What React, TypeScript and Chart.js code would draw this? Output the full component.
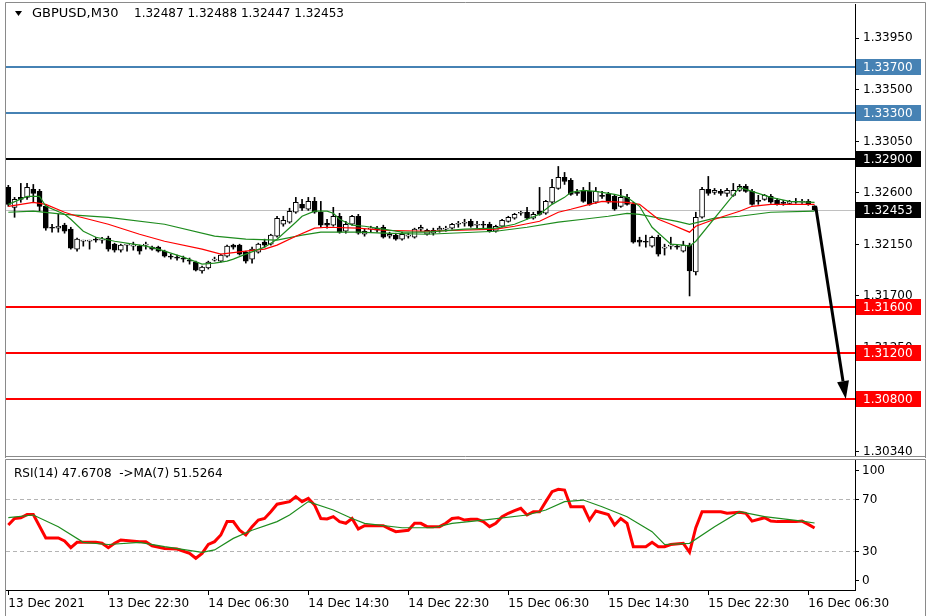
import React, { useEffect, useRef } from "react";
import { Chart, registerables } from "chart.js";

Chart.register(...registerables);

// ---------------- data ----------------
const SYMBOL = "GBPUSD,M30";
const RSI_TEXT = "RSI(14) 47.6708  ->MA(7) 51.5264";

const OPEN = [
  1.32648, 1.32474, 1.32561, 1.32561, 1.32631, 1.32613, 1.32483, 1.323, 1.32292, 1.32318,
  1.32283, 1.32109, 1.32178, 1.32178, 1.32196, 1.32187, 1.32205, 1.32152, 1.321, 1.32144,
  1.32135, 1.32135, 1.32144, 1.32126, 1.32126, 1.32091, 1.32048, 1.32039, 1.32031, 1.32013,
  1.31996, 1.31918, 1.31944, 1.32013, 1.32004, 1.32048, 1.32144, 1.32144, 1.32083, 1.32022,
  1.32083, 1.3217, 1.32152, 1.32222, 1.32326, 1.32344, 1.32431, 1.325, 1.32457, 1.32526,
  1.32431, 1.32335, 1.32318, 1.32396, 1.32265, 1.32326, 1.32396, 1.32239, 1.32283, 1.32292,
  1.323, 1.32222, 1.32231, 1.32196, 1.32222, 1.32213, 1.32283, 1.32239, 1.32248, 1.32274,
  1.32283, 1.32292, 1.32326, 1.32335, 1.32352, 1.32318, 1.32326, 1.32326, 1.32265, 1.32309,
  1.32352, 1.32379, 1.32422, 1.32431, 1.32379, 1.3244, 1.32422, 1.32518, 1.32639, 1.32735,
  1.32709, 1.32605, 1.32613, 1.32613, 1.32518, 1.32579, 1.32587, 1.3257, 1.32483, 1.32561,
  1.325, 1.32187, 1.32178, 1.32135, 1.32213, 1.32118, 1.32135, 1.32135, 1.32091, 1.32144,
  1.31909, 1.32387, 1.32631, 1.32605, 1.32613, 1.32596, 1.32579, 1.32622, 1.32657, 1.32613,
  1.32535, 1.32543, 1.3257, 1.32535, 1.32518, 1.32509, 1.32526, 1.32518, 1.32526, 1.32487,
];
const HIGH = [
  1.32666, 1.32561, 1.32683, 1.32683, 1.32674, 1.32631, 1.325, 1.32326, 1.32413, 1.32335,
  1.323, 1.32205, 1.32187, 1.32187, 1.32213, 1.32213, 1.32222, 1.32161, 1.32152, 1.32152,
  1.3217, 1.32144, 1.3217, 1.32135, 1.32135, 1.321, 1.32065, 1.32057, 1.32048, 1.32031,
  1.32004, 1.31961, 1.32004, 1.32039, 1.32065, 1.32144, 1.32152, 1.32152, 1.32091, 1.32126,
  1.32161, 1.32196, 1.32239, 1.32396, 1.32396, 1.32466, 1.32561, 1.32543, 1.32561, 1.32561,
  1.32526, 1.3237, 1.32474, 1.32422, 1.32352, 1.32405, 1.32413, 1.32283, 1.32309, 1.32309,
  1.32318, 1.32257, 1.32248, 1.32257, 1.32248, 1.32292, 1.32318, 1.32283, 1.32292, 1.32309,
  1.32309, 1.32335, 1.32352, 1.3237, 1.3237, 1.32352, 1.32352, 1.32344, 1.32318, 1.3237,
  1.32396, 1.32422, 1.3244, 1.32474, 1.32431, 1.32648, 1.32535, 1.32718, 1.32831, 1.32779,
  1.32726, 1.32631, 1.32648, 1.32692, 1.32648, 1.32613, 1.32605, 1.32587, 1.32631, 1.32587,
  1.32518, 1.32213, 1.32231, 1.32222, 1.32231, 1.32152, 1.32213, 1.32144, 1.32178, 1.32161,
  1.32431, 1.32648, 1.32744, 1.32639, 1.32631, 1.32639, 1.32683, 1.32674, 1.32674, 1.32631,
  1.32579, 1.32587, 1.32587, 1.32552, 1.32535, 1.32535, 1.32552, 1.32543, 1.32543, 1.32488,
];
const LOW = [
  1.32483, 1.32387, 1.32518, 1.32543, 1.32518, 1.3244, 1.32274, 1.32257, 1.32257, 1.32248,
  1.32109, 1.32091, 1.32135, 1.32109, 1.3217, 1.32161, 1.32091, 1.32083, 1.32083, 1.32091,
  1.321, 1.32065, 1.32109, 1.321, 1.32083, 1.32039, 1.32022, 1.32013, 1.31996, 1.31978,
  1.31918, 1.319, 1.31935, 1.32004, 1.31996, 1.32039, 1.32109, 1.32057, 1.31987, 1.31987,
  1.32074, 1.32126, 1.32144, 1.32213, 1.32309, 1.32335, 1.32422, 1.32448, 1.32448, 1.32422,
  1.323, 1.32292, 1.32309, 1.32248, 1.32248, 1.32318, 1.32239, 1.32222, 1.32257, 1.32257,
  1.32205, 1.32205, 1.32187, 1.32187, 1.32205, 1.32205, 1.32265, 1.32231, 1.32231, 1.32257,
  1.32265, 1.32283, 1.323, 1.32309, 1.323, 1.32292, 1.32292, 1.32257, 1.32257, 1.323,
  1.32344, 1.3237, 1.32405, 1.3237, 1.3237, 1.32405, 1.32413, 1.32509, 1.32631, 1.32674,
  1.32579, 1.32579, 1.32518, 1.32492, 1.32509, 1.32552, 1.32509, 1.32448, 1.32474, 1.32492,
  1.32161, 1.32135, 1.32126, 1.32126, 1.32048, 1.32057, 1.32109, 1.32109, 1.32083, 1.317,
  1.31883, 1.32379, 1.32579, 1.32587, 1.32579, 1.3257, 1.3257, 1.32613, 1.32605, 1.32492,
  1.325, 1.32535, 1.32509, 1.32492, 1.32492, 1.325, 1.32509, 1.32509, 1.32492, 1.32447,
];
const CLOSE = [
  1.325, 1.32543, 1.32543, 1.32648, 1.32596, 1.32483, 1.32292, 1.32292, 1.32309, 1.32265,
  1.32118, 1.32196, 1.32187, 1.32187, 1.32187, 1.32196, 1.32109, 1.321, 1.32144, 1.32152,
  1.32144, 1.32091, 1.32152, 1.32109, 1.32091, 1.32048, 1.32039, 1.32031, 1.32022, 1.32004,
  1.31926, 1.31952, 1.31996, 1.32022, 1.32057, 1.32135, 1.32126, 1.32065, 1.32004, 1.32109,
  1.32152, 1.32144, 1.32231, 1.32379, 1.32361, 1.3244, 1.32518, 1.32466, 1.32526, 1.32431,
  1.32318, 1.32318, 1.32396, 1.32257, 1.32326, 1.32396, 1.32248, 1.32265, 1.32292, 1.32274,
  1.32213, 1.32239, 1.32196, 1.32239, 1.32231, 1.32283, 1.323, 1.32274, 1.32274, 1.32292,
  1.32292, 1.32326, 1.32335, 1.32344, 1.32309, 1.32326, 1.32318, 1.32265, 1.32309, 1.32361,
  1.32387, 1.32413, 1.32431, 1.32379, 1.32413, 1.32413, 1.32526, 1.32648, 1.32735, 1.327,
  1.32587, 1.32596, 1.32526, 1.325, 1.32613, 1.3257, 1.32518, 1.32457, 1.32561, 1.325,
  1.3217, 1.3217, 1.3217, 1.32213, 1.32065, 1.32126, 1.32144, 1.32126, 1.32144, 1.31918,
  1.32387, 1.32631, 1.32596, 1.32622, 1.32596, 1.32622, 1.32622, 1.32657, 1.32613, 1.325,
  1.32526, 1.32579, 1.32518, 1.325, 1.32509, 1.32526, 1.32518, 1.32526, 1.325, 1.32453,
];

// moving averages on price: [bar index, price]
const MA_FAST = [
  [0, 1.325], [3, 1.3257], [5, 1.3257], [6, 1.32483], [9, 1.32413], [10, 1.3237], [12, 1.32265],
  [14, 1.32213], [17, 1.32178], [20, 1.32152], [22, 1.32135], [24, 1.32109], [28, 1.32039],
  [31, 1.31978], [33, 1.31987], [35, 1.32004], [36, 1.32022], [38, 1.32065], [41, 1.32126],
  [43, 1.32196], [46, 1.32344], [47, 1.32396], [49, 1.3244], [51, 1.3244], [52, 1.32422],
  [53, 1.3237], [55, 1.32318], [57, 1.32309], [60, 1.32283], [63, 1.32257], [67, 1.32257],
  [73, 1.32283], [78, 1.32292], [81, 1.32326], [83, 1.3237], [85, 1.32413], [87, 1.325],
  [89, 1.32561], [90, 1.32605], [92, 1.32622], [94, 1.32613], [97, 1.32587], [99, 1.32561],
  [101, 1.32483], [103, 1.323], [106, 1.32152], [108, 1.32144], [109, 1.32135], [110, 1.32178],
  [117, 1.32648], [119, 1.32613], [122, 1.32561], [125, 1.32526], [129, 1.32518],
];
const MA_MID = [
  [0, 1.32483], [2, 1.325], [4, 1.32518], [6, 1.325], [9, 1.32431], [11, 1.32396], [16, 1.32326],
  [21, 1.32239], [25, 1.32178], [31, 1.32109], [34, 1.32065], [38, 1.32091], [41, 1.32109],
  [43, 1.32144], [46, 1.32222], [49, 1.32292], [51, 1.323], [56, 1.32292], [60, 1.32274],
  [67, 1.32265], [78, 1.32283], [81, 1.32309], [85, 1.32352], [88, 1.32431], [90, 1.32457],
  [93, 1.325], [95, 1.32526], [99, 1.32518], [101, 1.325], [104, 1.3237], [106, 1.32326],
  [109, 1.32257], [110, 1.32309], [113, 1.3237], [117, 1.3244], [119, 1.32483], [122, 1.325],
  [129, 1.325],
];
const MA_SLOW = [
  [0, 1.32431], [4, 1.3244], [9, 1.32413], [16, 1.32387], [25, 1.32326], [33, 1.32222],
  [38, 1.32196], [43, 1.32187], [47, 1.32231], [50, 1.32257], [56, 1.32257], [60, 1.32248],
  [67, 1.32239], [78, 1.32265], [83, 1.323], [88, 1.32344], [92, 1.3237], [96, 1.32396],
  [99, 1.32422], [101, 1.32413], [107, 1.32352], [109, 1.32326], [113, 1.32379], [117, 1.32396],
  [122, 1.32431], [129, 1.3244],
];

// RSI panel: [bar index, value]
const RSI_LINE = [
  [0, 50], [1, 55], [2, 55.6], [3, 58], [4, 58], [6, 40], [8, 40], [9, 37.7], [10, 32.6],
  [11, 36.7], [14, 36.7], [15, 36], [16, 32.6], [17, 36], [18, 38.5], [21, 37.2], [22, 37.2],
  [23, 34], [25, 32], [27, 31.5], [29, 28.2], [30, 24.4], [31, 28.2], [32, 35], [33, 37.2],
  [34, 42.3], [35, 52.6], [36, 52.6], [37, 46], [38, 42.3], [39, 48.7], [40, 53.8], [41, 55],
  [42, 60.2], [43, 66], [45, 68], [46, 71.8], [47, 68], [48, 70.5], [49, 65.4], [50, 55],
  [51, 54.6], [52, 56.4], [53, 52.6], [54, 51.3], [55, 55], [56, 47], [57, 49.5], [60, 49.5],
  [61, 47], [62, 44.9], [64, 46], [65, 51.3], [66, 51.3], [67, 48.7], [69, 48.7], [70, 51.3],
  [71, 55], [72, 55.6], [73, 53.8], [74, 54.4], [75, 54.4], [76, 52.6], [77, 48.7], [78, 51.3],
  [79, 56.4], [80, 59], [81, 61], [82, 62.8], [83, 57.7], [84, 60.2], [85, 60.2], [86, 68],
  [87, 75.6], [88, 77.4], [89, 76.9], [90, 64], [92, 64], [93, 53.8], [94, 60.8], [96, 58],
  [97, 50], [98, 55], [99, 51.3], [100, 33.3], [102, 33.3], [103, 36.7], [104, 33.3], [105, 33.3],
  [106, 35], [108, 35.9], [109, 29], [110, 48], [111, 60.2], [114, 60.2], [115, 59], [117, 59.8],
  [118, 59], [119, 53], [121, 55.6], [122, 53], [123, 52.6], [126, 52.6], [127, 53], [128, 50.5],
  [129, 47.67],
];
const RSI_MA = [
  [0, 55.6], [4, 57.7], [8, 48.7], [12, 36.7], [16, 35], [21, 36.7], [25, 33.3], [31, 29],
  [33, 30.8], [36, 39.7], [39, 46], [43, 52.6], [45, 57.7], [48, 68], [52, 61.5], [55, 55],
  [57, 51.3], [63, 47.9], [68, 47.9], [71, 51.3], [76, 53.8], [83, 57.7], [86, 61.5], [89, 68],
  [92, 69.2], [95, 64], [99, 56.4], [103, 44.9], [105, 35], [109, 35.9], [113, 48.7], [117, 60.2],
  [121, 56.4], [127, 53], [129, 51.53],
];

const PRICE_TICKS = [1.3395, 1.335, 1.3305, 1.326, 1.3215, 1.317, 1.3125, 1.308, 1.3034];
const LEVEL_PRICES = [1.337, 1.333, 1.329, 1.316, 1.312, 1.308];
const CURRENT_PRICE = 1.32453;
const ARROW_FROM = [129.2, 1.32474];
const ARROW_TO = [134, 1.308];
const RSI_TICKS = [100, 70, 30, 0];
const RSI_LEVELS = [70, 30];
const X_TICKS = [0, 16, 32, 48, 64, 80, 96, 112, 128];
const X_LABELS = [
  "13 Dec 2021", "13 Dec 22:30", "14 Dec 06:30", "14 Dec 14:30", "14 Dec 22:30",
  "15 Dec 06:30", "15 Dec 14:30", "15 Dec 22:30", "16 Dec 06:30",
];

// ---------------- styles / layout ----------------
const FONT = '"DejaVu Sans", sans-serif';
const LEVEL_COLORS = ["#4682b4", "#4682b4", "#000000", "#ff0000", "#ff0000", "#ff0000"];
const GREEN = "#1e8c1e";
const RED = "#ff0000";
const FRAME = "#8a8a8a";
const X_MIN = -0.37;
const X_MAX = 135.47;
const PRICE_MIN = 1.30302;
const PRICE_MAX = 1.3425;
const W = 927;
const MAIN_H = 458;
const RSI_H = 158;

const pts = (arr: number[][]) => arr.map(([x, y]) => ({ x, y }));

const noPad = (s: any) => {
  s.paddingTop = 0;
  s.paddingBottom = 0;
  s.paddingLeft = 0;
  s.paddingRight = 0;
};

const mainDecor = {
  id: "mainDecor",
  beforeDatasetsDraw(chart: any) {
    const { ctx, chartArea: a, scales } = chart;
    const y = scales.y;
    ctx.save();
    const yc = Math.round(y.getPixelForValue(CURRENT_PRICE)) + 0.5;
    ctx.strokeStyle = "#c0c0c0";
    ctx.lineWidth = 1;
    ctx.beginPath();
    ctx.moveTo(a.left, yc);
    ctx.lineTo(a.right, yc);
    ctx.stroke();
    LEVEL_PRICES.forEach((p, k) => {
      const yy = Math.round(y.getPixelForValue(p));
      ctx.strokeStyle = LEVEL_COLORS[k];
      ctx.lineWidth = 2;
      ctx.beginPath();
      ctx.moveTo(a.left, yy);
      ctx.lineTo(a.right, yy);
      ctx.stroke();
    });
    ctx.restore();
  },
  afterDraw(chart: any) {
    const { ctx, chartArea: a, scales } = chart;
    const x = scales.x;
    const y = scales.y;
    ctx.save();
    // arrow
    const x0 = x.getPixelForValue(ARROW_FROM[0]);
    const y0 = y.getPixelForValue(ARROW_FROM[1]);
    const x1 = x.getPixelForValue(ARROW_TO[0]);
    const y1 = y.getPixelForValue(ARROW_TO[1]);
    const ang = Math.atan2(y1 - y0, x1 - x0);
    const hl = 18;
    const hw = 6;
    const bx = x1 - hl * Math.cos(ang);
    const by = y1 - hl * Math.sin(ang);
    ctx.strokeStyle = "#000";
    ctx.lineWidth = 3;
    ctx.lineCap = "butt";
    ctx.beginPath();
    ctx.moveTo(x0, y0);
    ctx.lineTo(bx, by);
    ctx.stroke();
    ctx.fillStyle = "#000";
    ctx.beginPath();
    ctx.moveTo(x1, y1);
    ctx.lineTo(bx + hw * Math.sin(ang), by - hw * Math.cos(ang));
    ctx.lineTo(bx - hw * Math.sin(ang), by + hw * Math.cos(ang));
    ctx.closePath();
    ctx.fill();

    // price label boxes
    ctx.font = `12px ${FONT}`;
    ctx.textBaseline = "middle";
    ctx.textAlign = "left";
    const box = (p: number, bg: string) => {
      const yy = Math.round(y.getPixelForValue(p));
      ctx.fillStyle = bg;
      ctx.fillRect(a.right + 1, yy - 8, 65, 16);
      ctx.fillStyle = "#fff";
      ctx.fillText(p.toFixed(5), a.right + 8, yy + 1);
    };
    LEVEL_PRICES.forEach((p, k) => box(p, LEVEL_COLORS[k]));
    box(CURRENT_PRICE, "#000");

    // header
    ctx.fillStyle = "#000";
    ctx.beginPath();
    ctx.moveTo(15, 11);
    ctx.lineTo(22, 11);
    ctx.lineTo(18.5, 16);
    ctx.closePath();
    ctx.fill();
    ctx.font = `13px ${FONT}`;
    ctx.fillText(SYMBOL, 32, 14);
    ctx.font = `12px ${FONT}`;
    const last = [OPEN, HIGH, LOW, CLOSE].map((arr) => arr[arr.length - 1].toFixed(5)).join(" ");
    ctx.fillText(last, 134, 14);

    // frame
    ctx.strokeStyle = FRAME;
    ctx.lineWidth = 1;
    ctx.beginPath();
    ctx.moveTo(5.5, MAIN_H);
    ctx.lineTo(5.5, 2.5);
    ctx.lineTo(925.5, 2.5);
    ctx.lineTo(925.5, MAIN_H);
    ctx.moveTo(5.5, a.bottom + 0.5);
    ctx.lineTo(925.5, a.bottom + 0.5);
    ctx.stroke();
    ctx.restore();
  },
};

const rsiDecor = {
  id: "rsiDecor",
  beforeDatasetsDraw(chart: any) {
    const { ctx, chartArea: a, scales } = chart;
    const y = scales.y;
    ctx.save();
    ctx.strokeStyle = "#b4b4b4";
    ctx.lineWidth = 1;
    ctx.setLineDash([4, 3]);
    RSI_LEVELS.forEach((v) => {
      const yy = Math.round(y.getPixelForValue(v)) + 0.5;
      ctx.beginPath();
      ctx.moveTo(a.left, yy);
      ctx.lineTo(a.right, yy);
      ctx.stroke();
    });
    ctx.restore();
  },
  afterDraw(chart: any) {
    const { ctx, chartArea: a, scales } = chart;
    const y = scales.y;
    ctx.save();
    ctx.font = `12px ${FONT}`;
    ctx.fillStyle = "#000";
    ctx.textBaseline = "middle";
    ctx.textAlign = "left";
    ctx.fillText(RSI_TEXT, 14, 16);
    ctx.strokeStyle = "#000";
    ctx.lineWidth = 1;
    RSI_TICKS.forEach((v) => {
      let yy = y.getPixelForValue(v);
      yy = Math.round(Math.min(Math.max(yy, a.top + 10), a.bottom - 10));
      ctx.beginPath();
      ctx.moveTo(a.right, yy + 0.5);
      ctx.lineTo(a.right + 4, yy + 0.5);
      ctx.stroke();
      ctx.fillText(String(v), a.right + 7, yy + 1);
    });
    ctx.strokeStyle = FRAME;
    ctx.beginPath();
    ctx.moveTo(5.5, RSI_H);
    ctx.lineTo(5.5, 1.5);
    ctx.lineTo(925.5, 1.5);
    ctx.lineTo(925.5, RSI_H);
    ctx.stroke();
    ctx.restore();
  },
};

export default function App() {
  const mainRef = useRef<HTMLCanvasElement>(null);
  const rsiRef = useRef<HTMLCanvasElement>(null);

  useEffect(() => {
    Chart.defaults.font.family = FONT;
    Chart.defaults.font.size = 12;
    Chart.defaults.color = "#000";

    const main = new Chart(mainRef.current as HTMLCanvasElement, {
      type: "bar",
      data: {
        datasets: [
          {
            type: "line",
            data: pts(MA_FAST),
            borderColor: GREEN,
            borderWidth: 1.2,
            pointRadius: 0,
            order: 1,
          },
          {
            type: "line",
            data: pts(MA_MID),
            borderColor: RED,
            borderWidth: 1.2,
            pointRadius: 0,
            order: 1,
          },
          {
            type: "line",
            data: pts(MA_SLOW),
            borderColor: GREEN,
            borderWidth: 1.2,
            pointRadius: 0,
            order: 1,
          },
          {
            type: "bar",
            data: OPEN.map((o, i) => ({ x: i, y: [o, CLOSE[i]] })),
            backgroundColor: OPEN.map((o, i) => (CLOSE[i] >= o ? "#ffffff" : "#000000")),
            borderColor: "#000",
            borderWidth: 1,
            borderSkipped: false,
            barThickness: 5,
            grouped: false,
            order: 2,
          },
          {
            type: "bar",
            data: LOW.map((l, i) => ({ x: i, y: [l, HIGH[i]] })),
            backgroundColor: "#000",
            borderWidth: 0,
            barThickness: 1,
            grouped: false,
            order: 3,
          },
        ] as any,
      },
      options: {
        responsive: false,
        animation: false,
        devicePixelRatio: 1,
        layout: { padding: { left: 6, top: 4, right: 0, bottom: 2 } },
        plugins: { legend: { display: false }, tooltip: { enabled: false } },
        scales: {
          x: { type: "linear", min: X_MIN, max: X_MAX, display: false, offset: false, grid: { offset: false } },
          y: {
            type: "linear",
            position: "right",
            min: PRICE_MIN,
            max: PRICE_MAX,
            afterFit: (s: any) => {
              s.width = 72;
              noPad(s);
            },
            afterBuildTicks: (s: any) => {
              s.ticks = PRICE_TICKS.map((v) => ({ value: v }));
            },
            ticks: {
              callback: (v: any) => Number(v).toFixed(5),
              color: "#000",
              font: { family: FONT, size: 12 },
              padding: 4,
              autoSkip: false,
            },
            grid: { drawOnChartArea: false, tickLength: 4, color: "#000" },
            border: { color: "#000" },
          },
        } as any,
      },
      plugins: [mainDecor],
    });

    const rsi = new Chart(rsiRef.current as HTMLCanvasElement, {
      type: "line",
      data: {
        datasets: [
          {
            data: pts(RSI_LINE),
            borderColor: RED,
            borderWidth: 3,
            pointRadius: 0,
            order: 2,
          },
          {
            data: pts(RSI_MA),
            borderColor: GREEN,
            borderWidth: 1.2,
            pointRadius: 0,
            order: 1,
          },
        ] as any,
      },
      options: {
        responsive: false,
        animation: false,
        devicePixelRatio: 1,
        layout: { padding: { left: 6, top: 2, right: 0, bottom: 0 } },
        plugins: { legend: { display: false }, tooltip: { enabled: false } },
        scales: {
          x: {
            type: "linear",
            min: X_MIN,
            max: X_MAX,
            offset: false,
            afterFit: (s: any) => {
              s.height = 26;
              noPad(s);
            },
            afterBuildTicks: (s: any) => {
              s.ticks = X_TICKS.map((v) => ({ value: v }));
            },
            ticks: {
              callback: (v: any) => {
                const k = X_TICKS.indexOf(Number(v));
                return k >= 0 ? X_LABELS[k] : "";
              },
              align: "start",
              maxRotation: 0,
              autoSkip: false,
              color: "#000",
              font: { family: FONT, size: 12 },
              padding: 2,
            },
            grid: { drawOnChartArea: false, tickLength: 5, color: "#000" },
            border: { color: "#000" },
          },
          y: {
            type: "linear",
            position: "right",
            min: 0,
            max: 100,
            afterFit: (s: any) => {
              s.width = 72;
              noPad(s);
            },
            ticks: { display: false },
            grid: { display: false },
            border: { display: true, color: "#000" },
          },
        } as any,
      },
      plugins: [rsiDecor],
    });

    return () => {
      main.destroy();
      rsi.destroy();
    };
  }, []);

  return (
    <div
      style={{
        position: "fixed",
        left: 0,
        top: 0,
        width: W,
        height: MAIN_H + RSI_H,
        background: "#fff",
      }}
    >
      <canvas
        ref={mainRef}
        width={W}
        height={MAIN_H}
        style={{ position: "absolute", left: 0, top: 0 }}
      />
      <canvas
        ref={rsiRef}
        width={W}
        height={RSI_H}
        style={{ position: "absolute", left: 0, top: MAIN_H }}
      />
    </div>
  );
}
